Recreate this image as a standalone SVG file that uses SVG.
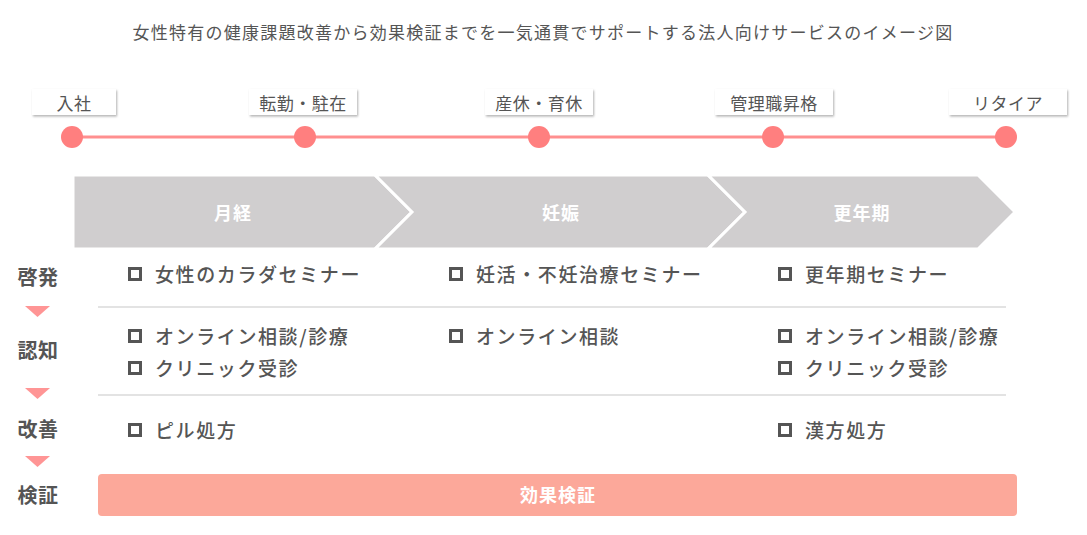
<svg xmlns="http://www.w3.org/2000/svg" width="1087" height="535" viewBox="0 0 1087 535">
<defs>
<filter id="sh" x="-10%" y="-20%" width="130%" height="160%">
<feDropShadow dx="1" dy="1.5" stdDeviation="1.2" flood-color="#000" flood-opacity="0.3"/>
</filter>
</defs>
<style>
text{font-family:"Noto Sans CJK JP","Noto Sans",sans-serif;fill:#555}
.title{font-size:17px;letter-spacing:1.25px}
.ms{font-size:17px;letter-spacing:0.5px}
.msbox{fill:#fff;filter:url(#sh)}
.dot{fill:#ff7f7f}
.chev{fill:#d0cecf;stroke:#fff;stroke-width:3}
.ch{font-size:18px;font-weight:bold;fill:#fff;letter-spacing:1px}
.row{font-size:20px;font-weight:bold;fill:#555;letter-spacing:0.5px}
.tri{fill:#ff9595}
.item{font-size:19px;font-weight:500;letter-spacing:1.6px}
.cb{fill:none;stroke:#555;stroke-width:3}
.div{stroke:#e3e3e3;stroke-width:2}
</style>
<rect width="1087" height="535" fill="#fff"/>
<text class="title" x="543" y="39" text-anchor="middle">女性特有の健康課題改善から効果検証までを一気通貫でサポートする法人向けサービスのイメージ図</text>

<g id="connectors">
<line x1="72" y1="137" x2="1006" y2="137" stroke="#ff8f8f" stroke-width="3"/>
</g>

<g id="m1"><rect class="msbox" x="32" y="89" width="84" height="26"/><circle class="dot" cx="72" cy="137" r="11"/><text class="ms" x="74" y="110" text-anchor="middle">入社</text></g>
<g id="m2"><rect class="msbox" x="249" y="89" width="108" height="26"/><circle class="dot" cx="305" cy="137" r="11"/><text class="ms" x="303" y="110" text-anchor="middle">転勤・駐在</text></g>
<g id="m3"><rect class="msbox" x="485" y="89" width="108" height="26"/><circle class="dot" cx="539" cy="137" r="11"/><text class="ms" x="539" y="110" text-anchor="middle">産休・育休</text></g>
<g id="m4"><rect class="msbox" x="715" y="89" width="118" height="26"/><circle class="dot" cx="773" cy="137" r="11"/><text class="ms" x="774" y="110" text-anchor="middle">管理職昇格</text></g>
<g id="m5"><rect class="msbox" x="949" y="89" width="118" height="26"/><circle class="dot" cx="1006" cy="137" r="11"/><text class="ms" x="1008" y="110" text-anchor="middle">リタイア</text></g>

<g id="phase1"><polygon class="chev" points="73,175 375,175 412,212 375,249 73,249"/><text class="ch" x="233" y="220" text-anchor="middle">月経</text></g>
<g id="phase2"><polygon class="chev" points="375,175 708,175 745,212 708,249 375,249 412,212"/><text class="ch" x="561" y="220" text-anchor="middle">妊娠</text></g>
<g id="phase3"><polygon class="chev" points="708,175 978,175 1015,212 978,249 708,249 745,212"/><text class="ch" x="862" y="220" text-anchor="middle">更年期</text></g>
<rect x="70.5" y="173" width="1.5" height="78" fill="#fff"/>

<g id="steps">
<text class="row" x="38" y="285" text-anchor="middle">啓発</text>
<polygon class="tri" points="25,306 50,306 37.5,317"/>
<text class="row" x="38" y="358" text-anchor="middle">認知</text>
<polygon class="tri" points="25,388 50,388 37.5,399"/>
<text class="row" x="38" y="437" text-anchor="middle">改善</text>
<polygon class="tri" points="25,456 50,456 37.5,467"/>
<text class="row" x="38" y="503" text-anchor="middle">検証</text>
</g>

<g id="dividers">
<line class="div" x1="98" y1="307" x2="1006" y2="307"/>
<line class="div" x1="98" y1="395" x2="1006" y2="395"/>
</g>

<g id="col1">
<rect class="cb" x="129.5" y="268.5" width="11" height="11"/><text class="item" x="155" y="282">女性のカラダセミナー</text>
<rect class="cb" x="129.5" y="330.5" width="11" height="11"/><text class="item" x="155" y="344">オンライン相談/診療</text>
<rect class="cb" x="129.5" y="362.5" width="11" height="11"/><text class="item" x="155" y="376">クリニック受診</text>
<rect class="cb" x="129.5" y="424.5" width="11" height="11"/><text class="item" x="155" y="438">ピル処方</text>
</g>
<g id="col2">
<rect class="cb" x="450.5" y="268.5" width="11" height="11"/><text class="item" x="476" y="282">妊活・不妊治療セミナー</text>
<rect class="cb" x="450.5" y="330.5" width="11" height="11"/><text class="item" x="476" y="344">オンライン相談</text>
</g>
<g id="col3">
<rect class="cb" x="779.5" y="268.5" width="11" height="11"/><text class="item" x="805" y="282">更年期セミナー</text>
<rect class="cb" x="779.5" y="330.5" width="11" height="11"/><text class="item" x="805" y="344">オンライン相談/診療</text>
<rect class="cb" x="779.5" y="362.5" width="11" height="11"/><text class="item" x="805" y="376">クリニック受診</text>
<rect class="cb" x="779.5" y="424.5" width="11" height="11"/><text class="item" x="805" y="438">漢方処方</text>
</g>

<g id="verify">
<rect x="98" y="474" width="919" height="42" rx="4" fill="#fca89a"/>
<text class="ch" x="558" y="502" text-anchor="middle">効果検証</text>
</g>
</svg>
